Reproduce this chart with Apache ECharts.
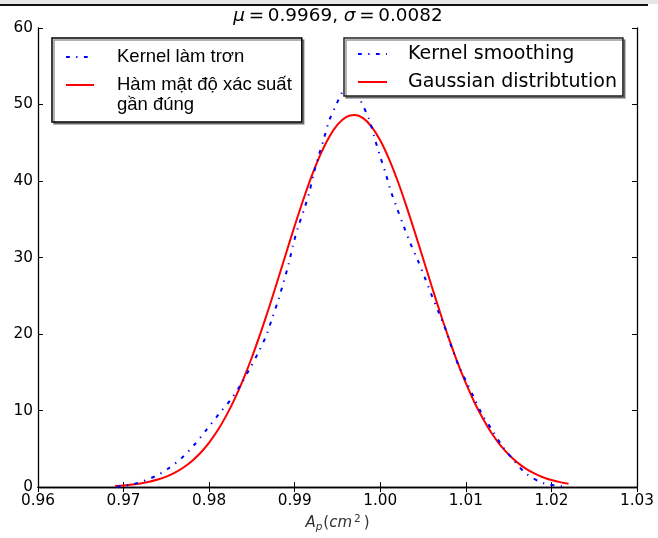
<!DOCTYPE html>
<html><head><meta charset="utf-8">
<script src="https://cdn.jsdelivr.net/npm/echarts@6/dist/echarts.min.js"></script>
<style>html,body{margin:0;padding:0;background:#fff}#c{width:658px;height:538px}</style>
</head><body><div id="c"></div>
<script>
// ---- data ----
const kernelX = [0.9692,0.9700,0.9712,0.9722,0.9732,0.9742,0.9752,0.9769,0.9784,0.9797,0.9811,0.9825,0.9837,0.9847,0.9858,0.9867,0.9874,0.9881,0.9887,0.9893,0.9898,0.9904,0.9911,0.9917,0.9922,0.9928,0.9934,0.9940,0.9949,0.9954,0.9960,0.9965,0.9971,0.9978,0.9987,0.9993,0.9999,1.0006,1.0012,1.0019,1.0027,1.0035,1.0044,1.0052,1.0060,1.0068,1.0076,1.0083,1.0091,1.0100,1.0109,1.0119,1.0131,1.0143,1.0156,1.0171,1.0191,1.0212,1.0220];
const kernelY = [0.05,0.15,0.4,0.75,1.17,1.7,2.4,3.9,5.7,7.5,9.5,11.4,13.4,15.4,17.7,19.9,22.2,24.5,26.8,29.2,31.6,34.0,36.3,38.5,40.9,43.3,45.5,47.8,50.1,51.3,52.4,52.8,52.0,50.3,48.05,45.75,43.5,41.1,38.8,36.6,34.2,31.9,29.6,27.4,25.1,22.9,20.7,18.4,16.0,13.9,11.8,9.5,7.4,5.3,3.5,1.7,0.5,0.1,0.0];
const gaussX = [0.969,0.970,0.971,0.972,0.973,0.974,0.975,0.976,0.977,0.978,0.979,0.980,0.981,0.982,0.983,0.984,0.985,0.986,0.987,0.988,0.989,0.990,0.991,0.992,0.993,0.994,0.995,0.996,0.997,0.998,0.999,1.000,1.001,1.002,1.003,1.004,1.005,1.006,1.007,1.008,1.009,1.010,1.011,1.012,1.013,1.014,1.015,1.016,1.017,1.018,1.019,1.020,1.021,1.022];
const gaussY = [0.149,0.224,0.331,0.484,0.695,0.985,1.374,1.890,2.560,3.416,4.49,5.82,7.42,9.34,11.57,14.12,16.97,20.12,23.47,27.01,30.59,34.15,37.55,40.70,43.45,45.70,47.36,48.36,48.64,48.22,47.08,45.29,42.93,40.10,36.89,33.44,29.87,26.28,22.78,19.46,16.37,13.58,11.09,8.93,7.08,5.53,4.26,3.23,2.41,1.78,1.29,0.92,0.65,0.45];
const xRange = [0.96, 1.03];
const xStep = 0.01;
const yRange = [0, 60];
const yStep = 10;
const namesVI = ['Kernel làm trơn', 'Hàm mật độ xác suất gần đúng'];
const namesEN = ['Kernel smoothing', 'Gaussian distribtution'];
const titleText = '{i|μ}\u2009=\u20090.9969, {i|σ}\u2009=\u20090.0082';

// ---- chart ----
const zip = (xs, ys) => xs.map((x, i) => [x, ys[i]]);
const blueStyle = { color: '#0000ff', width: 2, type: [3.8, 6.4, 1.3, 6.4], cap: 'butt' };
const redStyle = { color: '#ff0000', width: 2 };
const tickFont = { fontFamily: 'DejaVu Sans', fontSize: 15.3, color: '#000' };
const axisLine = { show: true, lineStyle: { color: '#000', width: 1.3 } };
const tickIn = { show: true, inside: true, length: 5, lineStyle: { color: '#000', width: 1 } };
const hiddenSymbol = { opacity: 0, borderWidth: 0 };

const chart = echarts.init(document.getElementById('c'), null, { renderer: 'canvas' });
chart.setOption({
  animation: false,
  backgroundColor: '#fff',
  title: {
    text: titleText, left: 338, top: 7, padding: 0, textAlign: 'center',
    textStyle: { fontFamily: 'DejaVu Sans', fontSize: 18.4, fontWeight: 'normal', color: '#000',
      rich: { i: { fontFamily: 'DejaVu Sans', fontSize: 18.4, fontStyle: 'italic', color: '#000' } } }
  },
  grid: { left: 38, right: 21, top: 28, bottom: 48, containLabel: false },
  xAxis: [
    { type: 'value', position: 'bottom', min: xRange[0], max: xRange[1], interval: xStep,
      axisLine, axisTick: tickIn, splitLine: { show: false },
      axisLabel: Object.assign({ margin: 6, formatter: v => v.toFixed(2) }, tickFont),
      name: '{i|A}{sub|p}{n|(}{i|cm}{sup|2}{n|)}', nameLocation: 'middle', nameGap: 24,
      nameTextStyle: { color: '#333', fontFamily: 'DejaVu Sans', fontSize: 15,
        rich: {
          i: { fontFamily: 'DejaVu Sans', fontStyle: 'italic', fontSize: 15, color: '#333', lineHeight: 20 },
          n: { fontFamily: 'DejaVu Sans', fontSize: 15, color: '#333', lineHeight: 20 },
          sub: { fontFamily: 'DejaVu Sans', fontStyle: 'italic', fontSize: 10.5, color: '#333', lineHeight: 11, padding: [9, 1, 0, 0] },
          sup: { fontFamily: 'DejaVu Sans', fontSize: 10.5, color: '#333', lineHeight: 11, padding: [0, 3, 8, 2] }
        } } },
    { type: 'value', position: 'top', min: xRange[0], max: xRange[1], interval: xStep,
      axisLine, axisTick: tickIn, splitLine: { show: false }, axisLabel: { show: false } }
  ],
  yAxis: [
    { type: 'value', position: 'left', min: yRange[0], max: yRange[1], interval: yStep,
      axisLine, axisTick: tickIn, splitLine: { show: false },
      axisLabel: Object.assign({ margin: 5 }, tickFont) },
    { type: 'value', position: 'right', min: yRange[0], max: yRange[1], interval: yStep,
      axisLine, axisTick: tickIn, splitLine: { show: false }, axisLabel: { show: false } }
  ],
  legend: [
    { data: [
        { name: namesVI[0], textStyle: { padding: [0, 0, 0, 18] } },
        { name: namesVI[1], textStyle: { padding: [0, 0, 0, 18] } }
      ],
      formatter: n => n === namesVI[1] ? '\u00a0\nHàm mật độ xác suất\ngần đúng' : n,
      orient: 'vertical', left: 52, top: 38, itemGap: -12, itemWidth: 28, itemHeight: 14,
      padding: [9, 10, 7, 13], selectedMode: false, itemStyle: hiddenSymbol,
      backgroundColor: '#fff', borderColor: '#000', borderWidth: 1.5, borderRadius: 0,
      shadowColor: 'rgba(0,0,0,0.4)', shadowOffsetX: 2, shadowOffsetY: 2, shadowBlur: 0,
      textStyle: { fontFamily: 'Liberation Sans', fontSize: 18.5, lineHeight: 20, color: '#000' } },
    { data: [
        { name: namesEN[0], textStyle: { padding: [0, 0, 0, 16] } },
        { name: namesEN[1], textStyle: { padding: [0, 0, 0, 16] } }
      ],
      orient: 'vertical', left: 344, top: 38, itemGap: 8, itemWidth: 29, itemHeight: 14,
      padding: [6, 6, 4, 13], selectedMode: false, itemStyle: hiddenSymbol,
      backgroundColor: '#fff', borderColor: '#222', borderWidth: 1.5, borderRadius: 0,
      shadowColor: 'rgba(0,0,0,0.4)', shadowOffsetX: 2, shadowOffsetY: 2, shadowBlur: 0,
      textStyle: { fontFamily: 'DejaVu Sans', fontSize: 19, lineHeight: 20, color: '#000' } }
  ],
  graphic: [
    { type: 'rect', shape: { x: 0, y: 0, width: 658, height: 4 }, style: { fill: '#e6e6e6' }, silent: true },
    { type: 'line', shape: { x1: 0, y1: 5, x2: 648, y2: 5 }, style: { stroke: '#111', lineWidth: 2 }, silent: true }
  ],
  series: [
    { name: namesVI[1], type: 'line', data: zip(gaussX, gaussY), showSymbol: false, symbol: 'none', smooth: 0.3, lineStyle: redStyle, itemStyle: { color: '#ff0000' }, z: 2 },
    { name: namesVI[0], type: 'line', data: zip(kernelX, kernelY), showSymbol: false, symbol: 'none', smooth: 0.3, lineStyle: blueStyle, itemStyle: { color: '#0000ff' }, z: 3 },
    { name: namesEN[0], type: 'line', data: [], symbol: 'none', lineStyle: blueStyle, itemStyle: { color: '#0000ff' } },
    { name: namesEN[1], type: 'line', data: [], symbol: 'none', lineStyle: redStyle, itemStyle: { color: '#ff0000' } }
  ]
});
</script>
</body></html>
